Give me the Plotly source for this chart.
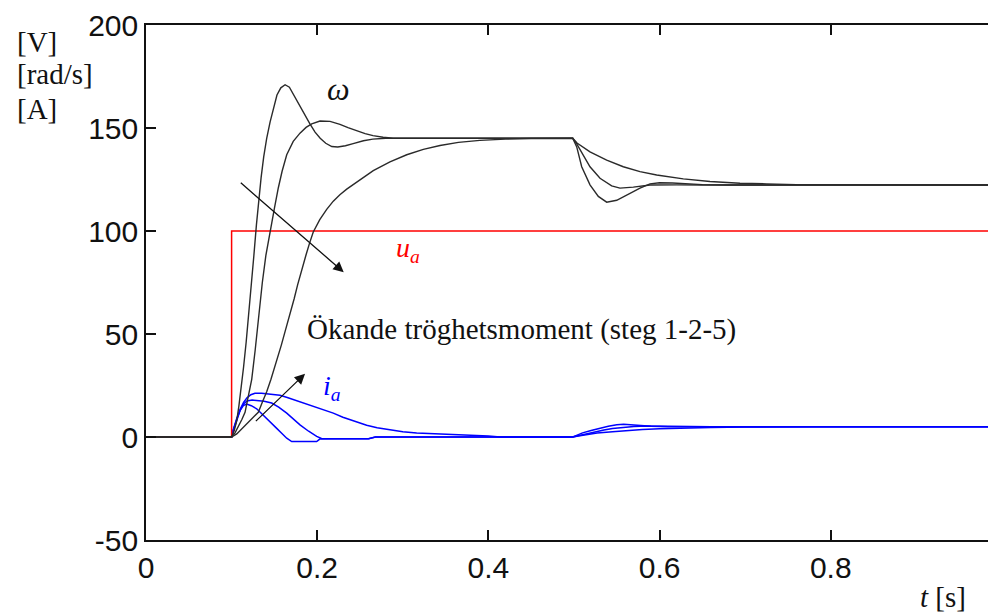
import plotly.graph_objects as go

# ---------------- data ----------------
# angular speed omega [rad/s], three inertia steps (1, 2, 5)
w1_t = [0, 0.1000, 0.1030, 0.1060, 0.1085, 0.1110, 0.1140, 0.1170, 0.1200, 0.1230, 0.1260, 0.1290,
        0.1315, 0.1345, 0.1375, 0.1410, 0.1450, 0.1490, 0.1530, 0.1575, 0.1625, 0.1675, 0.1720,
        0.1780, 0.1840, 0.1915, 0.1975, 0.2035, 0.2100, 0.2170, 0.2240, 0.2330, 0.2420, 0.2540,
        0.2650, 0.2800, 0.4985, 0.5032, 0.5090, 0.5187, 0.5284, 0.5382, 0.5499, 0.5616, 0.5771,
        0.5888, 0.6000, 0.6150, 0.6300, 0.6500, 0.6800, 1.0]
w1_v = [0, 0, 3, 8, 15, 23, 34, 46, 59, 73, 88, 103,
        115, 126, 136, 145, 153, 160, 166, 169.5, 171, 169.8, 166.5,
        161.5, 157, 152, 148, 145, 142.6, 141, 140.8, 141.4, 142.4, 143.8,
        144.6, 145, 145, 140.8, 131.2, 122.4, 116.8, 114, 114.9, 117.6, 120.8,
        122.9, 123.4, 123.3, 122.9, 122.5, 122.3, 122.3]

w2_t = [0, 0.1000, 0.1040, 0.1080, 0.1120, 0.1157, 0.1195, 0.1235, 0.1275, 0.1312, 0.1359, 0.1400,
        0.1449, 0.1500, 0.1546, 0.1590, 0.1644, 0.1720, 0.1799, 0.1870, 0.1936, 0.2033, 0.2150,
        0.2266, 0.2360, 0.2461, 0.2560, 0.2652, 0.2770, 0.2886, 0.3050, 0.4985, 0.5032, 0.5187,
        0.5304, 0.5440, 0.5537, 0.5693, 0.5888, 0.6200, 0.6500, 1.0]
w2_v = [0, 0, 2, 5, 8.5, 12, 19, 28, 42, 57, 75, 88,
        100, 111, 121, 129, 137, 143.5, 147.5, 150.3, 152, 153.4, 153.2,
        151.8, 150.2, 148.6, 147.3, 146.3, 145.5, 145.1, 145, 145, 142.3, 131.2,
        125.6, 121.9, 120.8, 121.3, 122.3, 122.4, 122.3, 122.3]

w3_t = [0, 0.1000, 0.1060, 0.1120, 0.1180, 0.1250, 0.1312, 0.1360, 0.1410, 0.1460, 0.1520, 0.1580,
        0.1630, 0.1682, 0.1730, 0.1772, 0.1820, 0.1870, 0.1910, 0.1954, 0.2030, 0.2111, 0.2188,
        0.2265, 0.2345, 0.2422, 0.2540, 0.2655, 0.2850, 0.3046, 0.3240, 0.3435, 0.3650, 0.3900,
        0.4200, 0.4500, 0.4985, 0.5035, 0.5187, 0.5382, 0.5576, 0.5771, 0.5966, 0.6160, 0.6277,
        0.6589, 0.6939, 0.7251, 0.7600, 1.0]
w3_v = [0, 0, 1.5, 4, 6.5, 9, 12, 17, 22, 28, 36, 44.5,
        52, 59.5, 67, 74, 81.5, 88.5, 94, 99.5, 105.5, 110.5, 114.5,
        117.6, 120.3, 122.6, 126.3, 129.3, 133.6, 137, 139.6, 141.5, 143, 144,
        144.6, 144.9, 145, 142.7, 138.4, 134.4, 131.2, 128.8, 127.2, 125.9, 125.3,
        124, 123.2, 122.9, 122.5, 122.3]

# armature voltage u_a [V]
ua_t = [0, 0.1, 0.1, 1.0]
ua_v = [0, 0, 100, 100]

# armature current i_a [A], three inertia steps
i1_t = [0, 0.1000, 0.1020, 0.1060, 0.1100, 0.1137, 0.1176, 0.1230, 0.1293, 0.1350, 0.1410, 0.1470,
        0.1527, 0.1585, 0.1644, 0.1702, 0.1994, 0.2030, 0.2600, 0.2680, 0.4985, 0.5030, 0.5100,
        0.5200, 0.5300, 0.5400, 0.5500, 0.5580, 0.5660, 0.5750, 0.5900, 0.6100, 1.0]
i1_v = [0, 0, 3.5, 9, 13, 15.3, 16, 15.2, 13.7, 11.5, 9, 6.5,
        4.2, 1.8, -0.6, -2.2, -2.2, -1, -0.8, 0, 0, 0.8, 2,
        3.2, 4.3, 5.2, 5.9, 6.2, 6, 5.6, 5.2, 5, 5]

i2_t = [0, 0.1000, 0.1020, 0.1060, 0.1100, 0.1140, 0.1180, 0.1240, 0.1310, 0.1380, 0.1468, 0.1550,
        0.1644, 0.1720, 0.1799, 0.1900, 0.1994, 0.2050, 0.2600, 0.2680, 0.4985, 0.5050, 0.5150,
        0.5250, 0.5350, 0.5450, 0.5550, 0.5700, 0.5850, 0.6000, 0.6250, 0.6600, 1.0]
i2_v = [0, 0, 3, 8.5, 13, 16, 17.5, 18, 17.8, 17.3, 16.5, 14.5,
        11.6, 8.7, 5.9, 2.8, 0.3, -0.7, -0.8, 0, 0, 0.6, 1.6,
        2.6, 3.4, 4.1, 4.6, 5.1, 5.4, 5.3, 5.1, 5, 5]

i3_t = [0, 0.1000, 0.1020, 0.1060, 0.1100, 0.1140, 0.1180, 0.1225, 0.1273, 0.1350, 0.1450, 0.1565,
        0.1650, 0.1720, 0.1799, 0.1900, 0.2000, 0.2100, 0.2188, 0.2300, 0.2400, 0.2578, 0.2700,
        0.2850, 0.3000, 0.3162, 0.3400, 0.3785, 0.4000, 0.4136, 0.4985, 0.5050, 0.5150, 0.5270,
        0.5450, 0.5600, 0.5800, 0.6000, 0.6300, 0.6600, 0.7000, 0.7400, 0.7800, 1.0]
i3_v = [0, 0, 3.5, 9, 13.5, 16.8, 19, 20.5, 21.2, 21.2, 20.9, 20.3,
        19.2, 18.2, 17.1, 15.7, 14.2, 12.8, 11.6, 9.6, 8.1, 5.7, 4.5,
        3.4, 2.6, 2, 1.6, 1, 0.5, 0, 0, 0.5, 1.2, 1.9,
        2.5, 3.1, 3.6, 4, 4.4, 4.6, 4.8, 4.95, 5, 5]

x_ticks = [0, 0.2, 0.4, 0.6, 0.8]
x_tick_labels = ["0", "0.2", "0.4", "0.6", "0.8"]
y_ticks = [-50, 0, 50, 100, 150, 200]
y_tick_labels = ["-50", "0", "50", "100", "150", "200"]

# ---------------- figure ----------------
BLUE = "#0000ff"
RED = "#ff0000"
DARK = "#2a2a2a"
SERIF = "Liberation Serif"
SANS = "Liberation Sans"

fig = go.Figure()
for tt, vv in [(i3_t, i3_v), (i2_t, i2_v), (i1_t, i1_v)]:
    fig.add_trace(go.Scatter(x=tt, y=vv, mode="lines", line=dict(color=BLUE, width=1.5),
                             showlegend=False, hoverinfo="skip"))
fig.add_trace(go.Scatter(x=ua_t, y=ua_v, mode="lines", line=dict(color=RED, width=1.5),
                         showlegend=False, hoverinfo="skip"))
for tt, vv in [(w3_t, w3_v), (w2_t, w2_v), (w1_t, w1_v)]:
    fig.add_trace(go.Scatter(x=tt, y=vv, mode="lines", line=dict(color=DARK, width=1.4),
                             showlegend=False, hoverinfo="skip"))

# invisible trace on right-hand y axis for mirrored ticks
fig.add_trace(go.Scatter(x=[0], y=[0], yaxis="y2", mode="markers", marker=dict(opacity=0),
                         showlegend=False, hoverinfo="skip"))

annotations = [
    # arrows
    dict(x=0.231, y=80, ax=0.109, ay=124, xref="x", yref="y", axref="x", ayref="y",
         showarrow=True, arrowhead=2, arrowsize=1.6, arrowwidth=1.3, arrowcolor="#111", text=""),
    dict(x=0.1858, y=30.7, ax=0.1266, ay=7, xref="x", yref="y", axref="x", ayref="y",
         showarrow=True, arrowhead=2, arrowsize=1.6, arrowwidth=1.3, arrowcolor="#111", text=""),
    # curve labels
    dict(x=0.2243, y=169, xref="x", yref="y", text="<i>ω</i>", showarrow=False,
         font=dict(family=SERIF, size=32, color="#111")),
    dict(x=0.2900, y=91, xref="x", yref="y", text="<i>u<sub>a</sub></i>", showarrow=False,
         xanchor="left", yanchor="middle", font=dict(family=SERIF, size=28, color=RED)),
    dict(x=0.2040, y=24, xref="x", yref="y", text="<i>i<sub>a</sub></i>", showarrow=False,
         xanchor="left", yanchor="middle", font=dict(family=SERIF, size=28, color=BLUE)),
    dict(x=0.1857, y=52.4, xref="x", yref="y", text="Ökande tröghetsmoment (steg 1-2-5)",
         showarrow=False, xanchor="left", yanchor="middle",
         font=dict(family=SERIF, size=29, color="#111")),
    # axis unit labels
    dict(x=-0.154, y=0.967, xref="paper", yref="paper", text="[V]", showarrow=False,
         xanchor="left", yanchor="middle", font=dict(family=SERIF, size=29, color="#111")),
    dict(x=-0.154, y=0.904, xref="paper", yref="paper", text="[rad/s]", showarrow=False,
         xanchor="left", yanchor="middle", font=dict(family=SERIF, size=29, color="#111")),
    dict(x=-0.154, y=0.837, xref="paper", yref="paper", text="[A]", showarrow=False,
         xanchor="left", yanchor="middle", font=dict(family=SERIF, size=29, color="#111")),
    dict(x=0.908, y=-0.111, xref="paper", yref="paper", text="<i>t</i> [s]", showarrow=False,
         xanchor="left", yanchor="middle", font=dict(family=SERIF, size=29, color="#111")),
]

# the page body has an 8 px margin, so the figure is 8 px smaller and offset
fig.update_layout(
    width=988, height=607,
    margin=dict(l=138, r=0, t=10, b=75),
    paper_bgcolor="white", plot_bgcolor="white",
    xaxis=dict(range=[0, 0.993], tickvals=x_ticks, ticktext=x_tick_labels,
               showgrid=False, zeroline=False, showline=True, linecolor="#111", linewidth=1.6,
               mirror="ticks", ticks="inside", ticklen=10, tickwidth=1.6, tickcolor="#111",
               tickfont=dict(family=SANS, size=30, color="#111"), ticklabelstandoff=0),
    yaxis=dict(range=[-50, 200], tickvals=y_ticks, ticktext=y_tick_labels,
               showgrid=False, zeroline=False, showline=True, linecolor="#111", linewidth=1.6,
               mirror=False, ticks="inside", ticklen=10, tickwidth=1.6, tickcolor="#111",
               tickfont=dict(family=SANS, size=30, color="#111"), ticklabelstandoff=0,
               ticklabeloverflow="allow"),
    yaxis2=dict(range=[-50, 200], tickvals=y_ticks, overlaying="y", side="right",
                showgrid=False, zeroline=False, showline=False, showticklabels=False,
                ticks="inside", ticklen=6, tickwidth=1.6, tickcolor="#111"),
    annotations=annotations,
)

fig.write_html("out.html")
